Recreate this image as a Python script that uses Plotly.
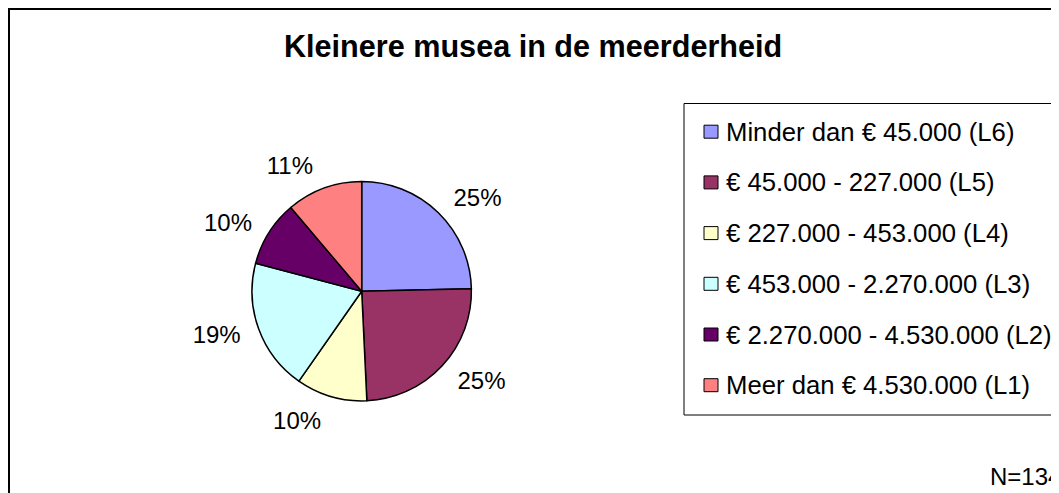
import plotly.graph_objects as go

# ---- data ----
labels = [
    "Minder dan € 45.000 (L6)",
    "€ 45.000 - 227.000 (L5)",
    "€ 227.000 - 453.000 (L4)",
    "€ 453.000 - 2.270.000 (L3)",
    "€ 2.270.000 - 4.530.000 (L2)",
    "Meer dan € 4.530.000 (L1)",
]
counts = [33, 33, 14, 26, 13, 15]
colors = ["#9999FF", "#993366", "#FFFFCC", "#CCFFFF", "#660066", "#FF8080"]
title_text = "Kleinere musea in de meerderheid"
note_text = "N=134"

# The page body has an 8px margin, so the figure starts at page pixel (8, 8).
OFF = 8
W, H = 1059 - OFF, 493 - OFF
FONT = "Liberation Sans, Arial, sans-serif"


def px(x):
    """page x pixel -> paper coordinate"""
    return (x - OFF) / W


def py(y):
    """page y pixel -> paper coordinate"""
    return 1 - (y - OFF) / H


# pie geometry (page pixels)
cx, cy, r = 361.7, 291.2, 109.7
label_pad = 12  # labels sit a bit further out than plotly's default

pie_common = dict(labels=labels, values=counts, sort=False,
                  direction="clockwise", rotation=0, showlegend=False)

fig = go.Figure()
# visible pie
fig.add_trace(go.Pie(
    **pie_common,
    marker=dict(colors=colors, line=dict(color="black", width=1.5)),
    textinfo="none",
    domain=dict(x=[px(cx - r), px(cx + r)], y=[py(cy + r), py(cy - r)]),
    hoverinfo="label+value+percent",
))
# transparent, slightly larger pie carrying the percentage labels
rl = r + label_pad
fig.add_trace(go.Pie(
    **pie_common,
    marker=dict(colors=["rgba(0,0,0,0)"] * len(labels), line=dict(width=0)),
    textposition="outside",
    texttemplate="%{percent:.0%}",
    outsidetextfont=dict(family=FONT, size=24, color="black"),
    domain=dict(x=[px(cx - rl), px(cx + rl)], y=[py(cy + rl), py(cy - rl)]),
    hoverinfo="skip",
))

shapes = []
annotations = []

# outer chart border (extends past right/bottom edges)
shapes.append(dict(type="rect", xref="paper", yref="paper",
                   x0=px(9), x1=px(1059 + 20), y0=py(493 + 20), y1=py(9),
                   line=dict(color="black", width=2), fillcolor="rgba(0,0,0,0)"))

# legend box
shapes.append(dict(type="rect", xref="paper", yref="paper",
                   x0=px(684), x1=px(1059 + 20), y0=py(415), y1=py(103.5),
                   line=dict(color="black", width=1), fillcolor="rgba(0,0,0,0)"))

row0, step = 131.7, 50.7
for i, (lab, col) in enumerate(zip(labels, colors)):
    yc = row0 + step * i
    shapes.append(dict(type="rect", xref="paper", yref="paper",
                       x0=px(704), x1=px(718), y0=py(yc + 6.5), y1=py(yc - 6.5),
                       line=dict(color="black", width=1), fillcolor=col))
    annotations.append(dict(xref="paper", yref="paper", x=px(723.5), y=py(yc),
                            xanchor="left", yanchor="middle", showarrow=False,
                            text=lab, font=dict(family=FONT, size=25.7, color="black")))

# title
annotations.append(dict(xref="paper", yref="paper", x=px(532.5), y=py(46),
                        xanchor="center", yanchor="middle", showarrow=False,
                        text="<b>" + title_text + "</b>",
                        font=dict(family=FONT, size=30.6, color="black")))

# N note (cut off at the right edge, as in the original)
annotations.append(dict(xref="paper", yref="paper", x=px(988), y=py(476),
                        xanchor="left", yanchor="middle", showarrow=False,
                        text=note_text, font=dict(family=FONT, size=24, color="black")))

fig.update_layout(
    width=W, height=H,
    margin=dict(l=0, r=0, t=0, b=0),
    paper_bgcolor="white",
    plot_bgcolor="white",
    shapes=shapes,
    annotations=annotations,
    font=dict(family=FONT, color="black"),
)

fig.write_html("out.html")
